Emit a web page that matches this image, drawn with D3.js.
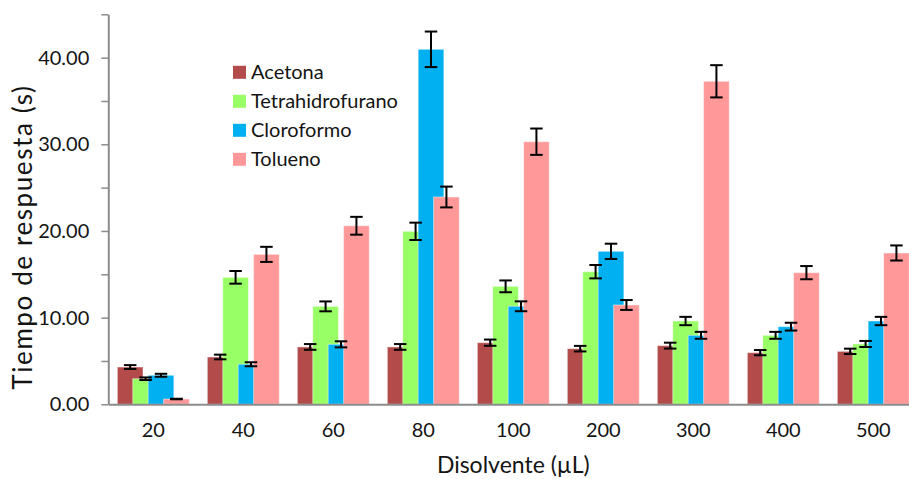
<!DOCTYPE html>
<html>
<head>
<meta charset="utf-8">
<script src="https://cdn.jsdelivr.net/npm/d3@7"></script>
<style>
  html, body { margin: 0; padding: 0; background: #fff; }
  svg { display: block; font-family: Lato, "Open Sans", sans-serif; }
</style>
</head>
<body>
<svg id="chart" width="909" height="479"></svg>
<script>
// Solvent volumes (µL) on the category axis
const categories = ["20", "40", "60", "80", "100", "200", "300", "400", "500"];

// Response time (s) per solvent
const acetona    = [4.30, 5.46, 6.62, 6.62, 7.11, 6.42, 6.77, 5.96, 6.11];
const thf        = [2.95, 14.65, 11.30, 19.96, 13.61, 15.30, 9.61, 7.96, 6.96];
const cloroformo = [3.35, 4.62, 6.92, 40.96, 11.31, 17.65, 7.96, 8.96, 9.61];
const tolueno    = [0.61, 17.30, 20.60, 23.92, 30.30, 11.46, 37.27, 15.19, 17.46];

// Error bar half-widths (s)
const acetonaErr    = [0.22, 0.27, 0.33, 0.33, 0.36, 0.32, 0.34, 0.30, 0.31];
const thfErr        = [0.15, 0.73, 0.57, 1.00, 0.68, 0.77, 0.48, 0.40, 0.35];
const cloroformoErr = [0.17, 0.23, 0.35, 2.05, 0.57, 0.88, 0.40, 0.45, 0.48];
const toluenoErr    = [0.03, 0.87, 1.03, 1.20, 1.52, 0.57, 1.86, 0.76, 0.87];

const seriesNames = ["Acetona", "Tetrahidrofurano", "Cloroformo", "Tolueno"];
const seriesColors = ["#B24B49", "#99FF66", "#00B0F0", "#FF9999"];

// Y ticks: every 5, labelled every 10
const yTicks = [0, 5, 10, 15, 20, 25, 30, 35, 40, 45];
const yLabelTicks = [0, 10, 20, 30, 40];

const series = [
  { name: seriesNames[0], color: seriesColors[0], values: acetona,    errs: acetonaErr },
  { name: seriesNames[1], color: seriesColors[1], values: thf,        errs: thfErr },
  { name: seriesNames[2], color: seriesColors[2], values: cloroformo, errs: cloroformoErr },
  { name: seriesNames[3], color: seriesColors[3], values: tolueno,    errs: toluenoErr }
];

const svg = d3.select("#chart");
const plot = { left: 108.3, right: 918.3, top: 14.3, bottom: 404.3 };
const axisColor = "#8C8C8C";
const textColor = "#141414";

const x = d3.scaleBand().domain(categories).range([plot.left, plot.right]).padding(0);
const y = d3.scaleLinear().domain([0, 45]).range([plot.bottom, plot.top]);

// Overlapping clustered bars: each bar shifted by 60% of its width
const barW = x.bandwidth() * 0.2855;
const barStep = barW * 0.6;
const groupW = barW + barStep * (series.length - 1);
const barX = (cat, si) => x(cat) + x.bandwidth() / 2 - groupW / 2 + si * barStep;

// Bars (later series drawn over earlier ones)
series.forEach((s, si) => {
  svg.append("g")
    .selectAll("rect")
    .data(categories.map((c, i) => ({ c, v: s.values[i] })))
    .join("rect")
    .attr("x", d => barX(d.c, si))
    .attr("y", d => y(d.v))
    .attr("width", barW)
    .attr("height", d => y(0) - y(d.v))
    .attr("fill", s.color)
    .attr("stroke", "rgba(255,255,255,0.45)")
    .attr("stroke-width", 1);
});

// Error bars on top
const capW = 12.5;
series.forEach((s, si) => {
  const g = svg.append("g").attr("stroke", "#000").attr("stroke-width", 2).attr("fill", "none");
  categories.forEach((c, i) => {
    const cx = barX(c, si) + barW / 2;
    const hi = y(s.values[i] + s.errs[i]);
    const lo = y(s.values[i] - s.errs[i]);
    g.append("line").attr("x1", cx).attr("x2", cx).attr("y1", hi).attr("y2", lo);
    g.append("line").attr("x1", cx - capW / 2).attr("x2", cx + capW / 2).attr("y1", hi).attr("y2", hi);
    g.append("line").attr("x1", cx - capW / 2).attr("x2", cx + capW / 2).attr("y1", lo).attr("y2", lo);
  });
});

// Y axis
const yAxis = svg.append("g")
  .attr("transform", `translate(${plot.left},0)`)
  .call(d3.axisLeft(y)
    .tickValues(yTicks)
    .tickSize(7)
    .tickPadding(12)
    .tickSizeOuter(0)
    .tickFormat(d => yLabelTicks.includes(d) ? d3.format(".2f")(d) : ""));
yAxis.select(".domain").attr("stroke", axisColor).attr("stroke-width", 2);
yAxis.selectAll(".tick line").attr("stroke", axisColor).attr("stroke-width", 1.5);
yAxis.selectAll(".tick text")
  .attr("fill", textColor)
  .style("font-size", "20px")
  .style("font-family", "Lato, sans-serif");

// X axis (no tick marks)
const xAxis = svg.append("g")
  .attr("transform", `translate(0,${plot.bottom})`)
  .call(d3.axisBottom(x).tickSize(0).tickPadding(19).tickSizeOuter(0));
xAxis.select(".domain").attr("stroke", axisColor).attr("stroke-width", 2);
xAxis.selectAll(".tick text")
  .attr("fill", textColor)
  .style("font-size", "20px")
  .style("font-family", "Lato, sans-serif");

// Axis titles
svg.append("text")
  .attr("x", (plot.left + plot.right) / 2)
  .attr("y", 473)
  .attr("text-anchor", "middle")
  .attr("fill", textColor)
  .style("font-size", "23px")
  .text("Disolvente (µL)");

svg.append("text")
  .attr("transform", "translate(32,237) rotate(-90)")
  .attr("text-anchor", "middle")
  .attr("fill", textColor)
  .style("font-size", "26px")
  .style("letter-spacing", "1.6px")
  .text("Tiempo de respuesta (s)");

// Legend
const legend = svg.append("g");
const legendRowY = 72.3, legendGap = 29;
series.forEach((s, i) => {
  const cy = legendRowY + i * legendGap;
  legend.append("rect")
    .attr("x", 233).attr("y", cy - 6.5)
    .attr("width", 13).attr("height", 13)
    .attr("fill", s.color);
  legend.append("text")
    .attr("x", 251).attr("y", cy)
    .attr("dy", "0.35em")
    .attr("fill", textColor)
    .style("font-size", "20px")
    .text(s.name);
});
</script>
</body>
</html>
